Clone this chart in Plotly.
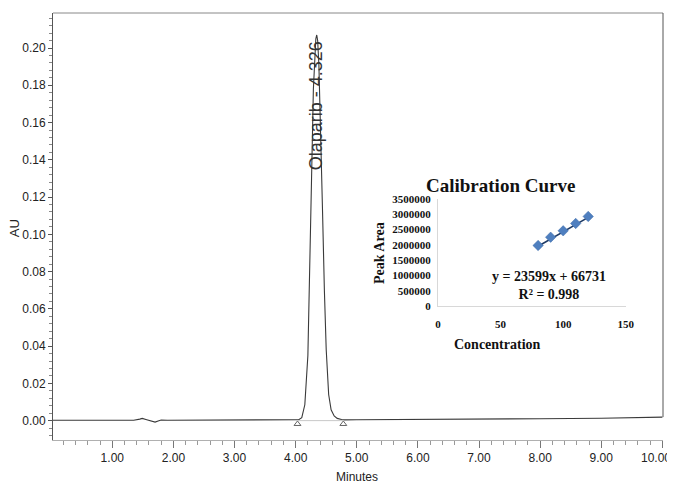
import plotly.graph_objects as go

# ---- Chromatogram data ----
time_min = [0.03, 0.5, 1.0, 1.35, 1.45, 1.49, 1.55, 1.65, 1.70, 1.75, 1.80, 1.90, 2.05, 2.16, 2.25,
            2.5, 3.0, 3.5, 3.9, 4.00, 4.05, 4.10, 4.15, 4.20, 4.23, 4.26, 4.29, 4.31, 4.33, 4.345,
            4.36, 4.38, 4.40, 4.42, 4.44, 4.47, 4.50, 4.54, 4.58, 4.63, 4.68, 4.75, 4.80, 5.0,
            6.0, 7.0, 8.0, 9.0, 9.5, 10.0]
absorb_au = [0.0002, 0.0002, 0.0002, 0.0002, 0.0008, 0.0012, 0.0006, -0.0004, -0.0008, -0.0002, 0.0003,
             0.0002, 0.0002, 0.0006, 0.0003, 0.0003, 0.0003, 0.0003, 0.0003, 0.0003, 0.0005, 0.0016,
             0.0085, 0.035, 0.076, 0.130, 0.178, 0.196, 0.205, 0.207, 0.204, 0.191, 0.168, 0.145,
             0.112, 0.070, 0.038, 0.014, 0.0058, 0.0025, 0.0012, 0.0006, 0.0004, 0.0005, 0.0006,
             0.0008, 0.0010, 0.0013, 0.0016, 0.0019]

peak_name = "Olaparib"
peak_rt = 4.326
peak_label_y = 0.169
peak_bounds_x = [4.03, 4.78]
peak_bounds_y = [0.0, 0.0]

x_ticks = [1, 2, 3, 4, 5, 6, 7, 8, 9, 10]
x_tick_labels = ["1.00", "2.00", "3.00", "4.00", "5.00", "6.00", "7.00", "8.00", "9.00", "10.00"]
y_ticks = [0.00, 0.02, 0.04, 0.06, 0.08, 0.10, 0.12, 0.14, 0.16, 0.18, 0.20]

# ---- Calibration inset data ----
concentration = [80, 90, 100, 110, 120]
peak_area = [1980000, 2250000, 2460000, 2700000, 2930000]
slope = 23599
intercept = 66731
r_squared = 0.998
cal_x_ticks = [0, 50, 100, 150]
cal_y_ticks = [0, 500000, 1000000, 1500000, 2000000, 2500000, 3000000, 3500000]

trend_x = [min(concentration), max(concentration)]
trend_y = [slope * v + intercept for v in trend_x]

SERIF = "Liberation Serif, Times New Roman, serif"
SANS = "Liberation Sans, Arial, sans-serif"

fig = go.Figure()

fig.add_trace(go.Scatter(x=time_min, y=absorb_au, mode="lines",
                         line=dict(color="#3a3a3a", width=1.1), hoverinfo="skip"))
fig.add_trace(go.Scatter(x=peak_bounds_x, y=peak_bounds_y, mode="lines",
                         line=dict(color="#c8c8c8", width=1), hoverinfo="skip"))
fig.add_trace(go.Scatter(x=peak_bounds_x, y=[v - 0.0018 for v in peak_bounds_y], mode="markers",
                         marker=dict(symbol="triangle-up-open", size=6, color="#666",
                                     line=dict(width=1, color="#666")), hoverinfo="skip"))

# inset
fig.add_trace(go.Scatter(x=trend_x, y=trend_y, mode="lines", xaxis="x2", yaxis="y2",
                         line=dict(color="#1f3b66", width=1.6), hoverinfo="skip"))
fig.add_trace(go.Scatter(x=concentration, y=peak_area, mode="markers", xaxis="x2", yaxis="y2",
                         marker=dict(symbol="diamond", size=8, color="#4f7fbf",
                                     line=dict(width=0.5, color="#3d6aa8")), hoverinfo="skip"))

# the last x label sits at the window edge; it is drawn as an annotation so it is not clipped
axis_tick_text = x_tick_labels[:-1] + [""]

# page body has an 8px margin: size the figure so it fits the 675x483 window
fig.update_layout(
    width=667, height=475,
    margin=dict(l=45, r=12, t=5, b=43),
    paper_bgcolor="white", plot_bgcolor="white",
    showlegend=False,
    xaxis=dict(range=[0.03, 10.01], tickvals=x_ticks, ticktext=axis_tick_text, automargin=False,
               showgrid=False, zeroline=False, showline=True, linecolor="#b0b0b0", linewidth=1,
               ticks="outside", ticklen=7, tickcolor="#777",
               minor=dict(dtick=0.2, tick0=0, ticks="outside", ticklen=4, tickcolor="#999"),
               tickfont=dict(family=SANS, size=12, color="#222")),
    yaxis=dict(range=[-0.0104, 0.2188], tickvals=y_ticks, tickformat=".2f", automargin=False,
               showgrid=False, zeroline=False, showline=True, linecolor="#555", linewidth=1,
               ticks="outside", ticklen=4, tickcolor="#555",
               minor=dict(dtick=0.004, tick0=0, ticks="outside", ticklen=3, tickcolor="#888"),
               tickfont=dict(family=SANS, size=12, color="#222")),
    xaxis2=dict(domain=[0.631, 0.939], anchor="y2", range=[0, 150], tickvals=cal_x_ticks,
                automargin=False,
                showgrid=False, zeroline=False, showline=True, linecolor="#d8d8d8", linewidth=1,
                ticks="", ticklabelstandoff=8,
                tickfont=dict(family=SERIF, size=11, color="#111", weight="bold")),
    yaxis2=dict(domain=[0.3138, 0.5644], anchor="x2", range=[0, 3500000], tickvals=cal_y_ticks,
                tickformat="d", automargin=False,
                showgrid=False, zeroline=False, showline=True, linecolor="#d8d8d8", linewidth=1,
                ticks="", ticklabelstandoff=4,
                tickfont=dict(family=SERIF, size=11, color="#111", weight="bold")),
)

# top and right frame lines
fig.add_shape(type="line", xref="paper", yref="paper", x0=0, x1=1, y0=1, y1=1,
              line=dict(color="#888", width=1))
fig.add_shape(type="line", xref="paper", yref="y", x0=1, x1=1, y0=peak_bounds_y[0] + 0.0019, y1=0.2188,
              line=dict(color="#555", width=1))

C = dict(xanchor="center", yanchor="middle", showarrow=False)

fig.add_annotation(x=x_ticks[-1], xref="x", y=-0.0415, yref="paper", text=x_tick_labels[-1],
                   xanchor="right", yanchor="middle", xshift=11, showarrow=False,
                   font=dict(family=SANS, size=12, color="#222"))

# axis titles
fig.add_annotation(x=-0.062, y=0.4965, xref="paper", yref="paper", text="AU", textangle=-90,
                   font=dict(family=SANS, size=13, color="#222"), **C)
fig.add_annotation(x=0.498, y=-0.086, xref="paper", yref="paper", text="Minutes",
                   font=dict(family=SANS, size=12, color="#222"), **C)

fig.add_annotation(x=peak_rt, y=peak_label_y, xref="x", yref="y",
                   text=f"{peak_name} - {peak_rt:.3f}", textangle=-90,
                   font=dict(family=SANS, size=18, color="#333"), **C)

# inset texts
fig.add_annotation(x=0.733, y=0.597, xref="paper", yref="paper", text="<b>Calibration Curve</b>",
                   font=dict(family=SERIF, size=19, color="#111"), **C)
fig.add_annotation(x=0.813, xref="paper", y=0.362, yref="paper",
                   text=f"<b>y = {slope}x + {intercept}<br>R² = {r_squared}</b>", align="center",
                   font=dict(family=SERIF, size=14, color="#111"), **C)
fig.add_annotation(x=0.728, y=0.2225, xref="paper", yref="paper", text="<b>Concentration</b>",
                   font=dict(family=SERIF, size=14, color="#111"), **C)
fig.add_annotation(x=0.536, y=0.438, xref="paper", yref="paper", text="<b>Peak Area</b>",
                   textangle=-90, font=dict(family=SERIF, size=14, color="#111"), **C)

fig.write_html("out.html")
